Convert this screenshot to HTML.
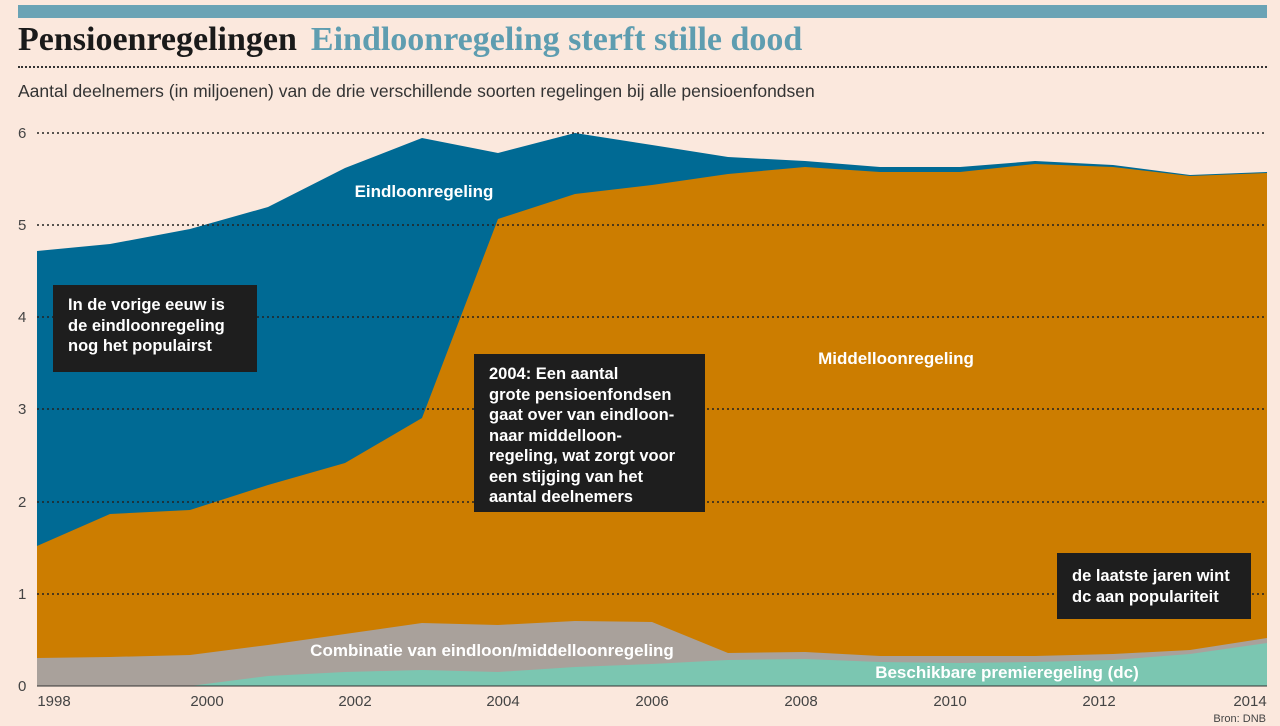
<!DOCTYPE html>
<html><head><meta charset="utf-8"><style>
body{margin:0;width:1280px;height:726px;background:#fbe8dd;overflow:hidden;position:relative;font-family:"Liberation Sans",sans-serif}
.bar{position:absolute;left:18px;top:5px;width:1249px;height:13px;background:#6aa3b5}
.t{position:absolute;left:18px;top:21px;font-family:"Liberation Serif",serif;font-weight:bold;font-size:34px;color:#1a1a1a;white-space:nowrap}
.t span{color:#5e9db0;margin-left:14px}
.dl{position:absolute;left:18px;width:1249px;border-top:2px dotted #333}
.sub{position:absolute;left:18px;top:81px;font-size:17.5px;color:#333}
.box{position:absolute;background:#1e1e1e;color:#fff;font-weight:bold;font-size:16.5px;line-height:20.5px;padding:10px 15px;box-sizing:border-box;white-space:nowrap}
</style></head><body>
<div class="bar"></div>
<div class="t">Pensioenregelingen<span>Eindloonregeling sterft stille dood</span></div>
<div class="dl" style="top:66px"></div>
<div class="sub">Aantal deelnemers (in miljoenen) van de drie verschillende soorten regelingen bij alle pensioenfondsen</div>
<svg width="1280" height="726" style="position:absolute;left:0;top:0">
<polygon fill="#006a94" points="37,251 110,244 190,229 268,207 345,168 422,138 498,153 575,133 652,145 728,157 805,161 880,167 960,167 1035,161 1113,165 1190,175 1267,172 1267,686 37,686"/>
<polygon fill="#cc7d00" points="37,546 110,514 190,510 268,485 345,463 422,418 498,219 575,194 652,185 728,174 805,167 880,172 960,172 1035,164 1113,167 1190,176 1267,173 1267,686 37,686"/>
<polygon fill="#a9a19b" points="37,658 110,657 190,655 268,645 345,634 422,623 498,625 575,621 652,622 728,653 805,652 880,656 960,656 1035,656 1113,654 1190,650 1267,638 1267,686 37,686"/>
<polygon fill="#7bc6b1" points="37,686 190,686 268,676 345,672 422,670 498,672 575,667 652,664 728,660 805,659 880,662 960,663 1035,662 1113,660 1190,654 1267,643 1267,686 37,686"/>
<g stroke="#222" stroke-width="1.5" stroke-dasharray="2,3">
<line x1="37" x2="1267" y1="133" y2="133"/><line x1="37" x2="1267" y1="225" y2="225"/><line x1="37" x2="1267" y1="317" y2="317"/><line x1="37" x2="1267" y1="409" y2="409"/><line x1="37" x2="1267" y1="502" y2="502"/><line x1="37" x2="1267" y1="594" y2="594"/>
</g>
<line x1="37" x2="1267" y1="686" y2="686" stroke="#333" stroke-width="1"/>
<g font-size="15" fill="#444">
<text x="18" y="138">6</text><text x="18" y="230">5</text><text x="18" y="322">4</text><text x="18" y="414">3</text><text x="18" y="507">2</text><text x="18" y="599">1</text><text x="18" y="691">0</text>
</g>
<g font-size="15" fill="#444" text-anchor="middle">
<text x="54" y="706">1998</text><text x="207" y="706">2000</text><text x="355" y="706">2002</text><text x="503" y="706">2004</text><text x="652" y="706">2006</text><text x="801" y="706">2008</text><text x="950" y="706">2010</text><text x="1099" y="706">2012</text><text x="1250" y="706">2014</text>
</g>
<text x="1266" y="722" font-size="11" fill="#444" text-anchor="end">Bron: DNB</text>
<g font-size="17" font-weight="bold" fill="#fff" text-anchor="middle">
<text x="424" y="197">Eindloonregeling</text>
<text x="896" y="364">Middelloonregeling</text>
<text x="492" y="656">Combinatie van eindloon/middelloonregeling</text>
<text x="1007" y="678">Beschikbare premieregeling (dc)</text>
</g>
</svg>
<div class="box" style="left:53px;top:285px;width:204px;height:87px">In de vorige eeuw is<br>de eindloonregeling<br>nog het populairst</div>
<div class="box" style="left:474px;top:354px;width:231px;height:158px">2004: Een aantal<br>grote pensioenfondsen<br>gaat over van eindloon-<br>naar middelloon-<br>regeling, wat zorgt voor<br>een stijging van het<br>aantal deelnemers</div>
<div class="box" style="left:1057px;top:553px;width:194px;height:66px;padding-top:13px">de laatste jaren wint<br>dc aan populariteit</div>
</body></html>
